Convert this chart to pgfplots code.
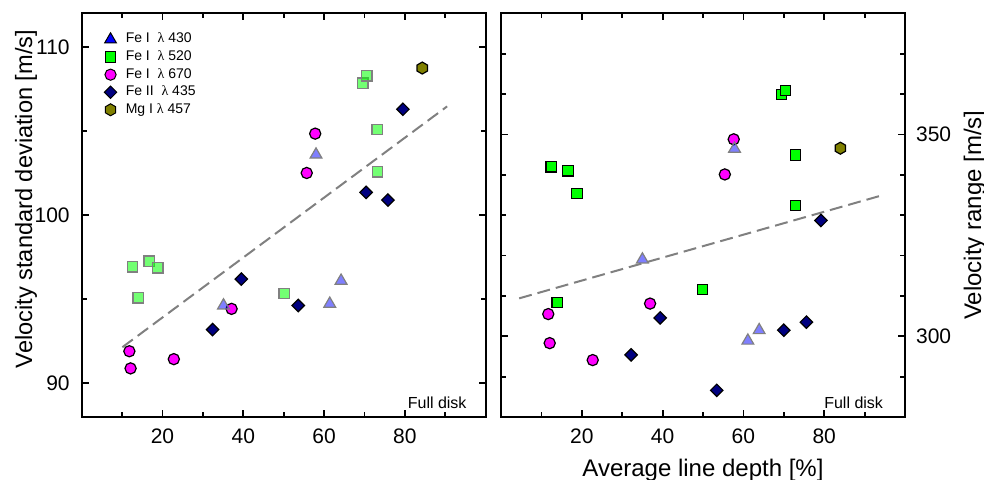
\documentclass[border=0pt]{standalone}
\usepackage{fontspec}
\setmainfont{Liberation Sans}
\newfontfamily\lamfont{Liberation Serif}
\usepackage{pgfplots}
\pgfplotsset{compat=1.18}

\pgfdeclareplotmark{hexagon}{%
  \pgfpathmoveto{\pgfpointpolar{90}{\pgfplotmarksize}}%
  \pgfpathlineto{\pgfpointpolar{150}{\pgfplotmarksize}}%
  \pgfpathlineto{\pgfpointpolar{210}{\pgfplotmarksize}}%
  \pgfpathlineto{\pgfpointpolar{270}{\pgfplotmarksize}}%
  \pgfpathlineto{\pgfpointpolar{330}{\pgfplotmarksize}}%
  \pgfpathlineto{\pgfpointpolar{30}{\pgfplotmarksize}}%
  \pgfpathclose
  \pgfusepathqfillstroke
}

\definecolor{navyc}{RGB}{0,0,128}
\definecolor{olivec}{RGB}{128,128,0}
\definecolor{fitgray}{RGB}{128,128,128}
\definecolor{magc}{RGB}{255,0,255}
\definecolor{greenc}{RGB}{0,255,0}
\definecolor{bluec}{RGB}{0,0,255}

\pgfplotsset{
  panel/.style={
    scale only axis, width=202pt, height=201.8pt,
    xmin=0, xmax=100,
    axis line style={line width=1pt},
    tick style={line width=0.9pt, black},
    major tick length=3.5pt, minor tick length=2.5pt,
    tick align=inside,
    xtick={20,40,60,80}, minor xtick={10,30,50,70,90},
    ticklabel style={font=\fontsize{10.5}{12}\selectfont},
    xticklabel style={yshift=-2.5pt},
    /pgf/number format/assume math mode=true,
    label style={font=\fontsize{12}{14}\selectfont},
    clip=false,
  },
  fitline/.style={dashed, dash pattern=on 6.5pt off 3pt, line width=1pt, fitgray},
  tri/.style={only marks, mark=triangle*, mark size=3.4pt, mark options={fill=bluec, fill opacity=0.5, draw=gray, line width=0.6pt}},
  sqA/.style={only marks, mark=square*, mark size=2.6pt, mark options={fill=greenc, fill opacity=0.55, draw=gray, line width=0.7pt}},
  sqB/.style={only marks, mark=square*, mark size=2.6pt, mark options={fill=greenc, draw=black, line width=0.6pt}},
  circ/.style={only marks, mark=*, mark size=2.8pt, mark options={fill=magc, draw=black, line width=0.6pt}},
  dia/.style={only marks, mark=square*, mark size=2.2pt, mark options={rotate=45, fill=navyc, draw=black, line width=0.6pt}},
  hex/.style={only marks, mark=hexagon, mark size=3pt, mark options={fill=olivec, draw=black, line width=0.6pt}},
}

\begin{document}
\begin{tikzpicture}
\begin{axis}[panel, name=left, at={(0,0)}, anchor=south west,
  ymin=88, ymax=112,
  ytick={90,100,110}, minor ytick={95,105},
  yticklabel style={xshift=-2.5pt},
  ylabel={Velocity standard deviation [m/s]},
  ylabel style={at={(axis description cs:-0.138,0.54)}, anchor=center, font=\fontsize{11.8}{14}\selectfont},
  legend style={at={(rel axis cs:0.055,0.962)}, anchor=north west, draw=none, fill=none,
    font=\fontsize{7}{8.4}\selectfont, inner sep=0pt, row sep=-1.65pt,
    /tikz/every odd column/.append style={column sep=2.5pt}},
  legend cell align=left,
]
\addlegendimage{only marks, mark=triangle*, mark size=3.4pt, mark options={fill=bluec, draw=black, line width=0.5pt}}
\addlegendentry{Fe I\ \ {\lamfont λ} 430}
\addlegendimage{only marks, mark=square*, mark size=2.6pt, mark options={fill=greenc, draw=black, line width=0.5pt}}
\addlegendentry{Fe I\ \ {\lamfont λ} 520}
\addlegendimage{only marks, mark=*, mark size=2.8pt, mark options={fill=magc, draw=black, line width=0.5pt}}
\addlegendentry{Fe I\ \ {\lamfont λ} 670}
\addlegendimage{only marks, mark=square*, mark size=2.2pt, mark options={rotate=45, fill=navyc, draw=black, line width=0.5pt}}
\addlegendentry{Fe II\ \ {\lamfont λ} 435}
\addlegendimage{only marks, mark=hexagon, mark size=3pt, mark options={fill=olivec, draw=black, line width=0.5pt}}
\addlegendentry{Mg I {\lamfont λ} 457}

\addplot[fitline, forget plot] coordinates {(10.07,92.15) (90.45,106.47)};
\addplot[sqA, forget plot] coordinates {(12.55,96.93) (16.7,97.26) (18.8,96.87) (13.95,95.09) (50.1,95.34) (69.6,107.84) (70.6,108.3) (73.1,105.1) (73.2,102.57)};
\addplot[circ, forget plot] coordinates {(11.8,91.91) (12.1,90.89) (22.8,91.44) (37.1,94.43) (55.7,102.51) (57.8,104.85)};
\addplot[tri, forget plot] coordinates {(58.0,103.6) (35.1,94.63) (61.4,94.73) (64.2,96.1)};
\addplot[dia, forget plot] coordinates {(32.4,93.2) (39.5,96.2) (53.6,94.63) (70.4,101.36) (75.8,100.9) (79.5,106.3)};
\addplot[hex, forget plot] coordinates {(84.3,108.75)};
\node[anchor=base east, font=\fontsize{8}{9.6}\selectfont] at (rel axis cs:0.97,0.02) {Full disk};
\end{axis}

\begin{axis}[panel, name=right, at={(209.65pt,0)}, anchor=south west,
  ymin=280, ymax=380,
  ytick={300,350}, minor ytick={290,310,320,330,340,360,370},
  yticklabel pos=right,
  yticklabel style={xshift=2pt},
  ylabel={Velocity range [m/s]},
  ylabel style={at={(axis description cs:1.173,0.5)}, anchor=center},
  xlabel={Average line depth [\%]},
  xlabel style={at={(axis description cs:0.5,0)}, anchor=base, yshift=-30pt},
]
\addplot[fitline] coordinates {(4.5,309.4) (94.6,335.0)};
\addplot[sqB] coordinates {(12.4,342.0) (16.6,341.0) (18.8,335.4) (13.9,308.4) (49.9,311.6) (69.4,359.9) (70.4,360.9) (72.9,344.9) (72.9,332.4)};
\addplot[circ] coordinates {(11.7,305.5) (12.05,298.3) (22.7,294.1) (36.9,308.1) (55.4,340.1) (57.6,348.8)};
\addplot[tri] coordinates {(57.8,346.45) (35.0,319.0) (61.1,298.9) (63.9,301.5)};
\addplot[dia] coordinates {(32.2,295.4) (39.4,304.55) (53.4,286.6) (70.0,301.5) (75.6,303.5) (79.2,328.7)};
\addplot[hex] coordinates {(84.0,346.6)};
\node[anchor=base east, font=\fontsize{8}{9.6}\selectfont] at (rel axis cs:0.963,0.02) {Full disk};
\end{axis}

\pgfresetboundingbox
\path[use as bounding box] (-40.85pt,-31.5pt) rectangle (451.15pt,208.5pt);
\end{tikzpicture}
\end{document}
